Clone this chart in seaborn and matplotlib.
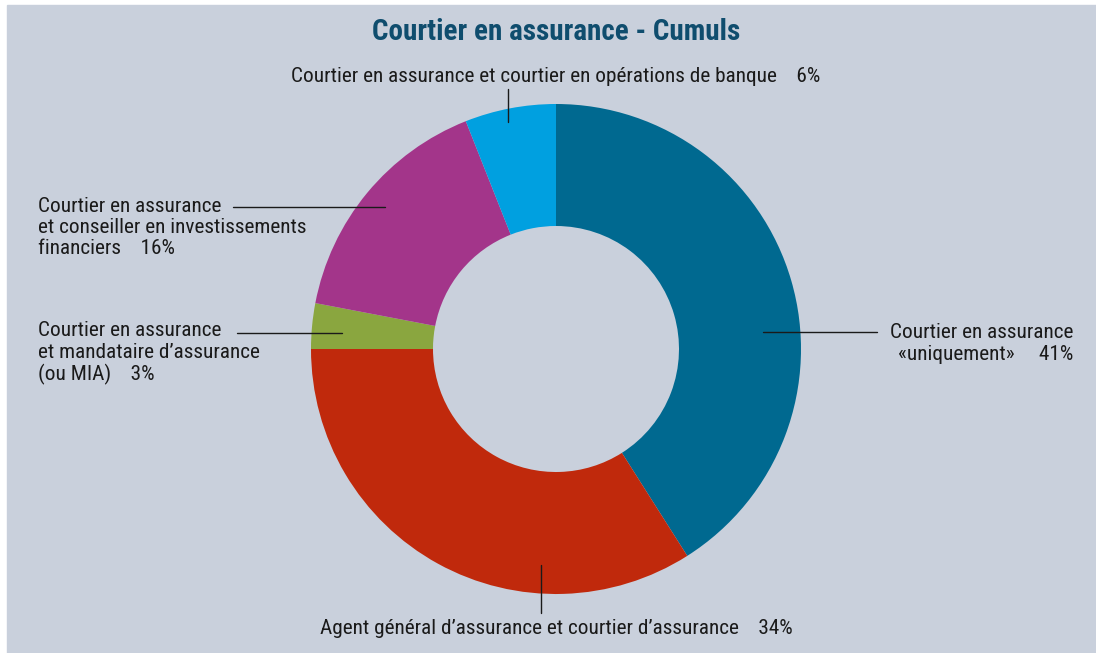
"""Donut chart: Courtier en assurance - Cumuls."""
import matplotlib; matplotlib.use('Agg')
import matplotlib.pyplot as plt
import matplotlib.patches as mpatches
import seaborn as sns

sns.set_theme(style='white')
plt.rcParams['font.family'] = ['Roboto Condensed', 'Archivo Narrow',
                               'PT Sans Narrow', 'Liberation Sans Narrow',
                               'Roboto', 'DejaVu Sans']

# ── data ──────────────────────────────────────────────────────────────
categories = [
    'Courtier en assurance\n«uniquement»',
    'Agent général d\u2019assurance et courtier d\u2019assurance',
    'Courtier en assurance\net mandataire d\u2019assurance\n(ou MIA)',
    'Courtier en assurance\net conseiller en investissements\nfinanciers',
    'Courtier en assurance et courtier en opérations de banque',
]
shares = [41, 34, 3, 16, 6]
colors = ['#006990', '#c0290c', '#8aa63f', '#a3358a', '#00a0e0']

BG = '#c9d0dc'
W, H = 1096, 653

fig = plt.figure(figsize=(W / 100, H / 100), dpi=100, facecolor='white')
fig.patches.append(mpatches.Rectangle((7 / W, 0), 1, 1 - 5 / H,
                                      transform=fig.transFigure,
                                      color=BG, zorder=-5))
ax = fig.add_axes([0, 0, 1, 1])
ax.pie(shares, colors=colors, startangle=90, counterclock=False,
       center=(556, H - 349), radius=245,
       wedgeprops=dict(width=122, edgecolor='none'))
# pie() resets the limits, so set them afterwards
ax.set_xlim(0, W)
ax.set_ylim(0, H)
ax.set_aspect('equal')
ax.axis('off')

def py(y):
    return H - y

fs = 15.3
TXT = '#1a1a1a'
# leader lines (pixel space, y from top)
leaders = [
    ((763, 332), (877, 332)),
    ((541, 565), (541, 613)),
    ((342, 333), (237, 333)),
    ((385, 207), (233, 207)),
    ((508, 122), (508, 89)),
]
for (x0, y0), (x1, y1) in leaders:
    ax.plot([x0, x1], [py(y0), py(y1)], color=TXT, lw=1)

def label(lines, x, y0, ha):
    for i, line in enumerate(lines):
        ax.text(x, py(y0 + 21.5 * i), line, ha=ha, va='center',
                fontsize=fs, color=TXT)

lab = [c.split('\n') for c in categories]
label([lab[0][0], f'{lab[0][1]}     {shares[0]}%'], 1073, 333, 'right')
label([f'{lab[1][0]}    {shares[1]}%'], 556, 628, 'center')
label(lab[2][:-1] + [f'{lab[2][-1]}    {shares[2]}%'], 38, 331, 'left')
label(lab[3][:-1] + [f'{lab[3][-1]}    {shares[3]}%'], 38, 206, 'left')
label([f'{lab[4][0]}    {shares[4]}%'], 556, 77, 'center')

ax.text(556, py(32), 'Courtier en assurance - Cumuls', ha='center',
        va='center', fontsize=21, fontweight='bold', color='#0f4d6e')

fig.savefig('out.png', dpi=100, facecolor=fig.get_facecolor())
